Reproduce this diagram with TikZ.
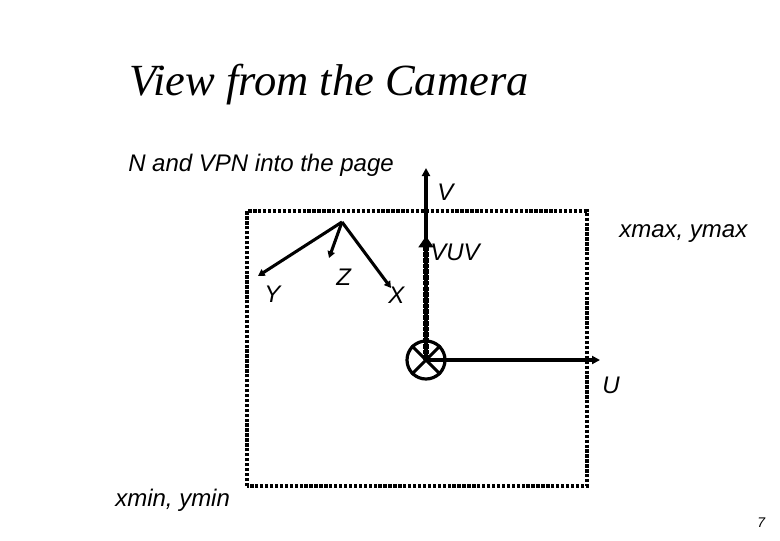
\documentclass[tikz,border=0pt]{standalone}
\usepackage{fontspec}
\setmainfont{Liberation Sans}
\newfontfamily\serifit{Liberation Serif}
\usetikzlibrary{arrows.meta}
\tikzset{
  x=0.75pt,y=-0.75pt,
  lbl/.style={inner sep=0pt,anchor=base west,font=\fontsize{18pt}{20pt}\selectfont\itshape},
  axis/.style={line width=2.8pt,-{Triangle[length=6pt,width=6pt]}},
  vec/.style={line width=2.3pt,-{Triangle[length=5pt,width=5.5pt]}},
  frame/.style={line width=2.4pt,dash pattern=on 2.5pt off 1.2pt,draw=black}
}
\begin{document}
\begin{tikzpicture}
\useasboundingbox (0,0) rectangle (780,540);
\node[inner sep=0pt,anchor=base west,font=\fontsize{33.4pt}{36pt}\selectfont\serifit\itshape] (title) at (129,95) {View from the Camera};
\node[lbl] (note) at (128,171) {N and VPN into the page};
\coordinate (bl) at (247,486);
\coordinate (tr) at (587,211);
\draw[frame] (bl) rectangle (tr);
\coordinate (o) at (426,360);
\coordinate (vtip) at (426,168);
\coordinate (vuvtip) at (426,236);
\coordinate (utip) at (600,360);
\node[circle,draw,line width=2.4pt,minimum size=28.5pt,inner sep=0pt] (c) at (o) {};
\draw[line width=2.2pt] (c.north west) -- (c.south east) (c.north east) -- (c.south west);
\draw[axis] (o) -- (vtip);
\draw[axis] (o) -- (utip);
\draw[line width=4.2pt,dash pattern=on 3.5pt off 0.8pt] (o) -- (426,247);
\draw[line width=3pt,-{Triangle[length=8.5pt,width=11pt]}] (426,252) -- (vuvtip);
\coordinate (a) at (342,222);
\coordinate (ytip) at (258,276);
\coordinate (ztip) at (329,258);
\coordinate (xtip) at (391,288);
\draw[vec] (a) -- (ytip);
\draw[vec] (a) -- (ztip);
\draw[vec] (a) -- (xtip);
\node[lbl] (v) at (437,200) {V};
\node[lbl] (vuv) at (430,260) {VUV};
\node[lbl] (y) at (264,302) {Y};
\node[lbl] (z) at (336,285) {Z};
\node[lbl] (x) at (388,303) {X};
\node[lbl] (u) at (602,393) {U};
\node[lbl] (mx) at (619,237) {xmax, ymax};
\node[lbl] (mn) at (115,506) {xmin, ymin};
\node[inner sep=0pt,anchor=base west,font=\fontsize{10.5pt}{12pt}\selectfont\itshape] (n) at (757,527) {7};
\end{tikzpicture}
\end{document}
